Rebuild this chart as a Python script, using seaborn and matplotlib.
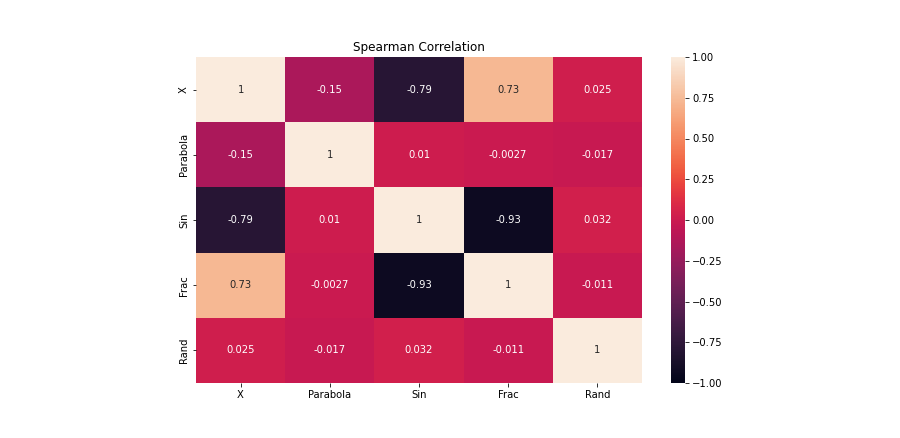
import numpy as np
import pandas as pd
import matplotlib
matplotlib.use("Agg")
import matplotlib.pyplot as plt
import seaborn as sns

labels = ["X", "Parabola", "Sin", "Frac", "Rand"]
row_x = [1, -0.15, -0.79, 0.73, 0.025]
row_parabola = [-0.15, 1, 0.01, -0.0027, -0.017]
row_sin = [-0.79, 0.01, 1, -0.93, 0.032]
row_frac = [0.73, -0.0027, -0.93, 1, -0.011]
row_rand = [0.025, -0.017, 0.032, -0.011, 1]

corr = pd.DataFrame([row_x, row_parabola, row_sin, row_frac, row_rand],
                    index=labels, columns=labels)

fig = plt.figure(figsize=(900 / 72, 438 / 72), dpi=72)
ax = fig.add_axes([196 / 900, 1 - 383 / 438, 446 / 900, 326 / 438])
cax = fig.add_axes([671 / 900, 1 - 383 / 438, 14 / 900, 326 / 438])
sns.heatmap(corr, annot=True, vmin=-1, vmax=1, ax=ax, cbar_ax=cax)
ax.set_title("Spearman Correlation", fontsize=12)
fig.savefig("out.png", dpi=72)
